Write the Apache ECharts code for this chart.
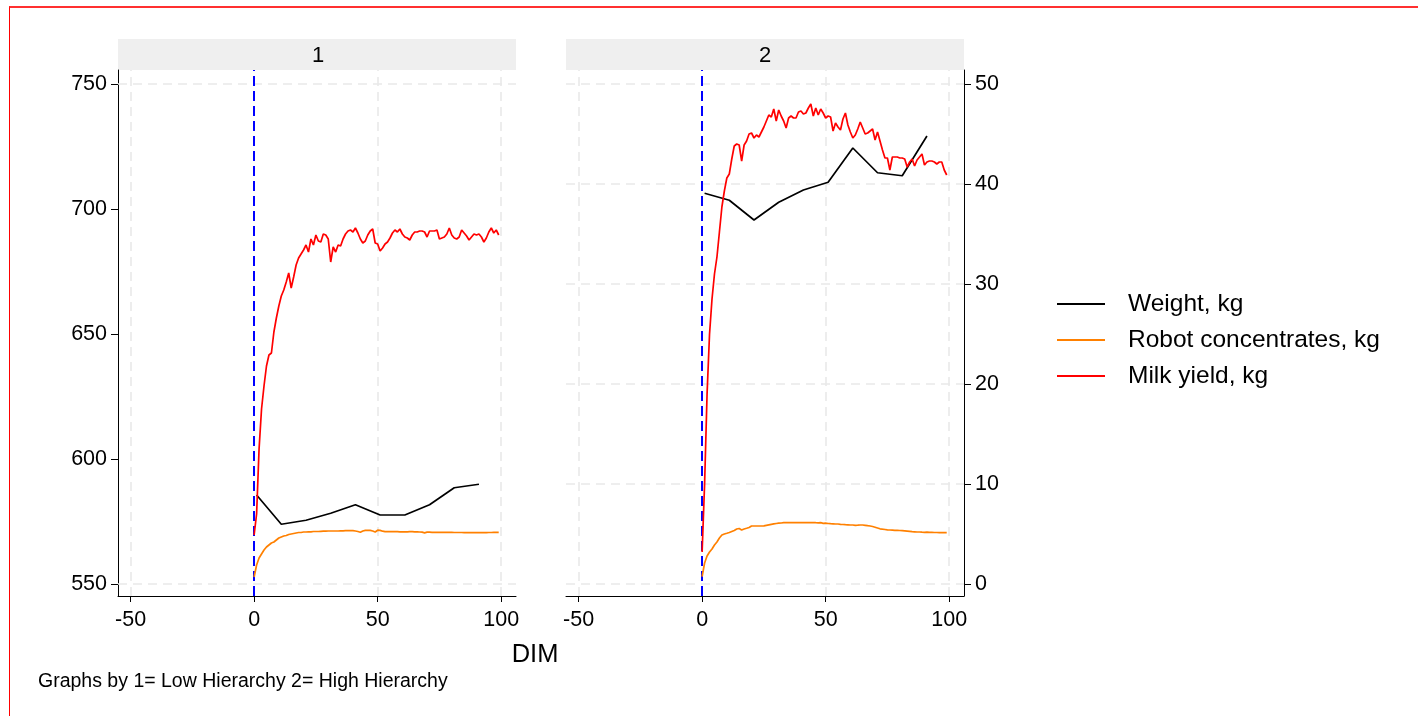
<!DOCTYPE html>
<html>
<head>
<meta charset="utf-8">
<script src="https://cdn.jsdelivr.net/npm/echarts@6/dist/echarts.min.js"></script>
<style>
  html, body { margin: 0; padding: 0; background: #fff; overflow: hidden; }
  #chart { width: 1418px; height: 716px; }
  #frame { position: absolute; left: 9px; top: 6px; width: 1430px; height: 730px;
           border-left: 1px solid #ff0000; border-top: 2px solid #ff3030; pointer-events: none; }
</style>
</head>
<body>
<div id="chart"></div>
<div id="frame"></div>
<script>
// ---------------- data ----------------
const panelNames = ['1', '2'];
const seriesNames = ['Weight, kg', 'Robot concentrates, kg', 'Milk yield, kg'];
const xTicks = [-50, 0, 50, 100];
const leftTicks = [550, 600, 650, 700, 750];
const rightTicks = [0, 10, 20, 30, 40, 50];

const dim = [0,1,2,3,4,5,6,7,8,9,10,11,12,13,14,15,16,17,18,19,
  20,21,22,23,24,25,26,27,28,29,30,31,32,33,34,35,36,37,38,39,
  40,41,42,43,44,45,46,47,48,49,50,51,52,53,54,55,56,57,58,59,
  60,61,62,63,64,65,66,67,68,69,70,71,72,73,74,75,76,77,78,79,
  80,81,82,83,84,85,86,87,88,89,90,91,92,93,94,95,96,97,98,99];

const weightDim = [1, 11, 21, 31, 41, 51, 61, 71, 81, 91];
const weightLow  = [585.6, 573.9, 575.5, 578.3, 581.7, 577.6, 577.6, 581.7, 588.5, 589.9];
const weightHigh = [706.3, 703.5, 695.6, 702.7, 707.6, 710.7, 724.4, 714.5, 713.3, 729.2];

const milkLow = [4.9, 7.0, 13.5, 17.5, 19.8, 21.8, 22.9, 23.1, 25.2, 26.6,
  27.8, 28.8, 29.4, 30.2, 31.1, 29.6, 30.7, 31.9, 32.6, 33.0,
  33.4, 33.9, 33.2, 34.5, 33.9, 34.9, 34.3, 34.2, 35.0, 34.9,
  34.5, 32.2, 33.7, 33.2, 33.9, 33.8, 34.5, 35.0, 35.3, 35.4,
  35.2, 35.6, 35.1, 34.5, 34.1, 34.3, 34.9, 35.3, 35.5, 34.1,
  34.0, 33.3, 33.6, 34.0, 34.2, 34.6, 35.1, 35.4, 35.2, 35.5,
  35.0, 34.7, 34.6, 34.4, 34.9, 35.2, 35.2, 35.3, 35.3, 35.2,
  34.7, 35.3, 35.3, 35.3, 35.4, 34.5, 34.6, 34.7, 35.0, 35.6,
  34.9, 34.6, 34.5, 34.7, 35.4, 35.1, 34.8, 34.4, 34.7, 35.0,
  34.9, 35.0, 34.7, 34.2, 34.6, 35.2, 35.6, 35.1, 35.4, 34.9];

const concLow = [0.7, 1.9, 2.6, 3.0, 3.4, 3.7, 3.9, 4.1, 4.2, 4.4,
  4.6, 4.7, 4.8, 4.85, 4.95, 5.0, 5.05, 5.1, 5.15, 5.15,
  5.2, 5.2, 5.22, 5.22, 5.25, 5.25, 5.25, 5.27, 5.28, 5.28,
  5.3, 5.3, 5.3, 5.3, 5.3, 5.32, 5.32, 5.33, 5.33, 5.33,
  5.33, 5.3, 5.25, 5.18, 5.3, 5.36, 5.37, 5.36, 5.3, 5.2,
  5.38, 5.36, 5.28, 5.24, 5.23, 5.23, 5.23, 5.23, 5.23, 5.22,
  5.22, 5.22, 5.22, 5.23, 5.23, 5.22, 5.21, 5.2, 5.18, 5.12,
  5.18, 5.18, 5.17, 5.17, 5.17, 5.17, 5.17, 5.16, 5.16, 5.16,
  5.16, 5.15, 5.15, 5.15, 5.15, 5.14, 5.14, 5.14, 5.14, 5.14,
  5.13, 5.13, 5.13, 5.13, 5.14, 5.15, 5.15, 5.16, 5.16, 5.16];

const milkHigh = [3.2, 10.0, 19.0, 25.0, 28.5, 31.0, 32.7, 35.2, 37.7, 39.3,
  40.6, 41.0, 42.5, 43.8, 44.0, 43.9, 42.3, 43.9, 44.3, 45.0,
  45.1, 44.6, 44.9, 44.7, 45.2, 45.7, 46.3, 46.9, 46.7, 47.5,
  46.3, 47.4, 46.8, 46.3, 45.6, 46.6, 46.8, 46.6, 46.6, 47.2,
  47.3, 47.0, 47.1, 47.6, 48.0, 46.8, 47.6, 46.9, 47.5, 47.1,
  46.6, 46.8, 46.7, 45.3, 46.1, 45.7, 45.4, 46.5, 47.1, 45.9,
  45.2, 44.6, 44.9, 45.5, 46.2, 45.6, 45.0, 45.1, 45.3, 45.5,
  44.4, 45.2, 44.3, 43.4, 42.6, 42.6, 41.4, 42.7, 42.7, 42.7,
  42.6, 42.6, 42.5, 41.7, 42.2, 42.5, 41.8, 42.4, 42.7, 43.0,
  41.9, 42.2, 42.3, 42.3, 42.2, 42.0, 42.2, 42.2, 41.4, 40.9];

const concHigh = [0.73, 2.1, 2.8, 3.2, 3.5, 3.9, 4.2, 4.6, 4.9, 5.0,
  5.07, 5.15, 5.25, 5.35, 5.5, 5.55, 5.4, 5.5, 5.57, 5.65,
  5.8, 5.8, 5.8, 5.8, 5.8, 5.82, 5.87, 5.92, 5.97, 6.02,
  6.05, 6.08, 6.1, 6.13, 6.13, 6.14, 6.13, 6.13, 6.14, 6.13,
  6.14, 6.13, 6.15, 6.13, 6.13, 6.15, 6.13, 6.12, 6.13, 6.07,
  6.08, 6.05, 6.03, 6.02, 6.0, 6.0, 5.97, 5.95, 5.93, 5.92,
  5.9, 5.9, 5.87, 5.88, 5.9, 5.9, 5.87, 5.83, 5.8, 5.75,
  5.68, 5.6, 5.52, 5.48, 5.45, 5.42, 5.4, 5.39, 5.37, 5.36,
  5.35, 5.33, 5.31, 5.29, 5.27, 5.24, 5.22, 5.2, 5.2, 5.18,
  5.17, 5.18, 5.16, 5.16, 5.15, 5.15, 5.14, 5.14, 5.13, 5.13];

const footnote = 'Graphs by 1= Low Hierarchy 2= High Hierarchy';
const xTitle = 'DIM';

// ---------------- helpers ----------------
const FONT = 'Liberation Sans, Arial, sans-serif';
const colors = { weight: '#000000', conc: '#ff8000', milk: '#ff0000' };
const pair = (xs, ys) => xs.map((x, i) => [x, ys[i]]);

const X_MIN = -55.1, X_MAX = 106;
const L_MIN = 545.2, L_MAX = 755.6;
const R_MIN = -1.2, R_MAX = 51.4;
const TICK_FONT = 21.5;

function xAxisFor(gridIndex) {
  return {
    type: 'value', gridIndex, min: X_MIN, max: X_MAX,
    axisLine: { show: true, onZero: false, lineStyle: { color: '#000', width: 1 } },
    axisTick: { show: true, length: 6, customValues: xTicks, lineStyle: { color: '#000' } },
    axisLabel: { customValues: xTicks, color: '#000', fontSize: TICK_FONT, fontFamily: FONT, margin: 13 },
    splitLine: { show: false }
  };
}

const gridLineStyle = { color: '#e9e9e9', type: [9, 6], width: 1.6 };

const option = {
  animation: false,
  backgroundColor: '#ffffff',
  textStyle: { fontFamily: FONT },
  grid: [
    { left: 118, top: 70, width: 398, height: 526 },
    { left: 566, top: 70, width: 398, height: 526 }
  ],
  xAxis: [xAxisFor(0), xAxisFor(1)],
  yAxis: [
    { type: 'value', gridIndex: 0, position: 'left', min: L_MIN, max: L_MAX,
      axisLine: { show: true, onZero: false, lineStyle: { color: '#000', width: 1 } },
      axisTick: { show: true, length: 7, customValues: leftTicks, lineStyle: { color: '#000' } },
      axisLabel: { customValues: leftTicks, color: '#000', fontSize: TICK_FONT, fontFamily: FONT, margin: 11 },
      splitLine: { show: false } },
    { type: 'value', gridIndex: 0, position: 'right', min: R_MIN, max: R_MAX, show: false, splitLine: { show: false } },
    { type: 'value', gridIndex: 1, position: 'left', min: L_MIN, max: L_MAX, show: false, splitLine: { show: false } },
    { type: 'value', gridIndex: 1, position: 'right', min: R_MIN, max: R_MAX,
      axisLine: { show: true, onZero: false, lineStyle: { color: '#000', width: 1 } },
      axisTick: { show: true, length: 7, customValues: rightTicks, lineStyle: { color: '#000' } },
      axisLabel: { customValues: rightTicks, color: '#000', fontSize: TICK_FONT, fontFamily: FONT, margin: 11 },
      splitLine: { show: false } }
  ],
  legend: {
    data: seriesNames,
    orient: 'vertical',
    left: 1057, top: 291,
    icon: 'rect', itemWidth: 48, itemHeight: 2, itemGap: 10,
    padding: 0,
    textStyle: { fontSize: 24.5, lineHeight: 26, color: '#000', fontFamily: FONT, padding: [0, 0, 0, 18] },
    selectedMode: false
  },
  graphic: [
    { type: 'rect', left: 118, top: 39, shape: { width: 398, height: 31 }, style: { fill: '#efefef' }, silent: true, z: 0 },
    { type: 'rect', left: 566, top: 39, shape: { width: 398, height: 31 }, style: { fill: '#efefef' }, silent: true, z: 0 },
    { type: 'text', x: 318, y: 56, style: { text: panelNames[0], font: '22px ' + FONT, fill: '#000', textAlign: 'center', textVerticalAlign: 'middle' } },
    { type: 'text', x: 765, y: 56, style: { text: panelNames[1], font: '22px ' + FONT, fill: '#000', textAlign: 'center', textVerticalAlign: 'middle' } },
    { type: 'text', x: 535, y: 655, style: { text: xTitle, font: '25.5px ' + FONT, fill: '#000', textAlign: 'center', textVerticalAlign: 'middle' } },
    { type: 'text', x: 38, y: 682, style: { text: footnote, font: '19.5px ' + FONT, fill: '#000', textAlign: 'left', textVerticalAlign: 'middle' } }
  ],
  series: [
    // gridlines panel 1
    { type: 'line', name: 'grid1', xAxisIndex: 0, yAxisIndex: 0, data: [], z: 1, silent: true,
      markLine: { z: 1, symbol: 'none', silent: true, label: { show: false }, lineStyle: gridLineStyle,
        data: xTicks.map(v => ({ xAxis: v })).concat([{ yAxis: 550 }, { yAxis: 750 }]) } },
    // gridlines panel 2
    { type: 'line', name: 'grid2', xAxisIndex: 1, yAxisIndex: 3, data: [], z: 1, silent: true,
      markLine: { z: 1, symbol: 'none', silent: true, label: { show: false }, lineStyle: gridLineStyle,
        data: xTicks.map(v => ({ xAxis: v })).concat(rightTicks.map(v => ({ yAxis: v }))) } },
    // calving reference lines
    { type: 'line', name: 'ref1', xAxisIndex: 0, yAxisIndex: 0, data: [], z: 2, silent: true,
      markLine: { z: 2, symbol: 'none', silent: true, label: { show: false },
        lineStyle: { color: '#0000ff', type: [10, 5], width: 2 }, data: [{ xAxis: 0 }] } },
    { type: 'line', name: 'ref2', xAxisIndex: 1, yAxisIndex: 3, data: [], z: 2, silent: true,
      markLine: { z: 2, symbol: 'none', silent: true, label: { show: false },
        lineStyle: { color: '#0000ff', type: [10, 5], width: 2 }, data: [{ xAxis: 0 }] } },

    // panel 1
    { type: 'line', name: seriesNames[0], xAxisIndex: 0, yAxisIndex: 0, data: pair(weightDim, weightLow),
      symbol: 'none', color: colors.weight, lineStyle: { width: 1.7, color: colors.weight }, z: 5 },
    { type: 'line', name: seriesNames[1], xAxisIndex: 0, yAxisIndex: 1, data: pair(dim, concLow),
      symbol: 'none', color: colors.conc, lineStyle: { width: 1.7, color: colors.conc }, z: 5 },
    { type: 'line', name: seriesNames[2], xAxisIndex: 0, yAxisIndex: 1, data: pair(dim, milkLow),
      symbol: 'none', color: colors.milk, lineStyle: { width: 1.7, color: colors.milk }, z: 5 },

    // panel 2
    { type: 'line', name: seriesNames[0], xAxisIndex: 1, yAxisIndex: 2, data: pair(weightDim, weightHigh),
      symbol: 'none', color: colors.weight, lineStyle: { width: 1.7, color: colors.weight }, z: 5 },
    { type: 'line', name: seriesNames[1], xAxisIndex: 1, yAxisIndex: 3, data: pair(dim, concHigh),
      symbol: 'none', color: colors.conc, lineStyle: { width: 1.7, color: colors.conc }, z: 5 },
    { type: 'line', name: seriesNames[2], xAxisIndex: 1, yAxisIndex: 3, data: pair(dim, milkHigh),
      symbol: 'none', color: colors.milk, lineStyle: { width: 1.7, color: colors.milk }, z: 5 }
  ]
};

const chart = echarts.init(document.getElementById('chart'), null, { renderer: 'canvas' });
chart.setOption(option);
</script>
</body>
</html>
